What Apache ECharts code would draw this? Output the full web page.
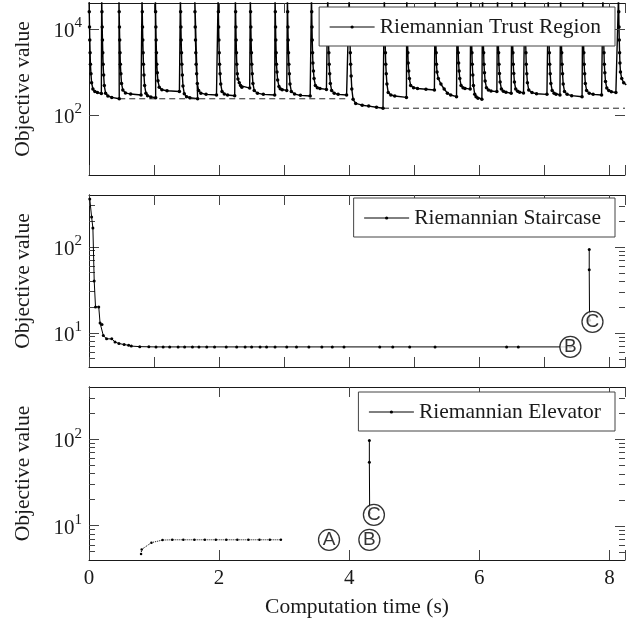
<!DOCTYPE html>
<html>
<head>
<meta charset="utf-8">
<script src="https://cdn.jsdelivr.net/npm/echarts@6/dist/echarts.min.js"></script>
<style>
html, body { margin: 0; padding: 0; background: #fff; }
#chart { width: 639px; height: 620px; }
</style>
</head>
<body>
<div id="chart"></div>
<script>
// restarts of the trust region solver, each one [time, objective]
var trustRegionRuns = [
    [[0,60000],[0.004,25000],[0.008,11000],[0.012,5500],[0.017,2800],[0.022,1500],[0.03,900],[0.04,560],[0.06,400],[0.09,350],[0.13,330],[0.19,315]],
    [[0.195,60000],[0.199,25000],[0.203,11000],[0.207,5500],[0.212,2800],[0.217,1500],[0.225,850],[0.235,480],[0.255,320],[0.29,275],[0.35,255],[0.465,238]],
    [[0.46,60000],[0.464,25000],[0.468,11000],[0.472,5500],[0.477,2800],[0.482,1500],[0.49,900],[0.5,540],[0.52,380],[0.56,325],[0.64,305],[0.8,290]],
    [[0.815,60000],[0.819,25000],[0.823,11000],[0.827,5500],[0.832,2800],[0.837,1500],[0.845,850],[0.855,480],[0.875,320],[0.9,280],[0.95,262],[1.025,250]],
    [[1.02,60000],[1.024,25000],[1.028,11000],[1.032,5500],[1.037,2800],[1.042,1500],[1.05,950],[1.06,620],[1.08,440],[1.12,385],[1.2,365],[1.39,350]],
    [[1.405,60000],[1.409,25000],[1.413,11000],[1.417,5500],[1.422,2800],[1.427,1500],[1.435,850],[1.445,470],[1.465,310],[1.5,265],[1.55,250],[1.67,238]],
    [[1.625,60000],[1.629,25000],[1.633,11000],[1.637,5500],[1.642,2800],[1.647,1500],[1.655,900],[1.665,540],[1.685,370],[1.72,320],[1.8,300],[1.96,290]],
    [[1.985,60000],[1.989,25000],[1.993,11000],[1.997,5500],[2.002,2800],[2.007,1500],[2.015,900],[2.025,520],[2.045,350],[2.08,305],[2.13,290],[2.24,278]],
    [[2.25,60000],[2.254,25000],[2.258,11000],[2.262,5500],[2.267,2800],[2.272,1500],[2.28,900],[2.29,680],[2.31,560],[2.33,480],[2.35,440],[2.47,420]],
    [[2.48,60000],[2.484,25000],[2.488,11000],[2.492,5500],[2.497,2800],[2.502,1500],[2.51,900],[2.52,540],[2.54,370],[2.59,320],[2.68,300],[2.855,290]],
    [[2.86,60000],[2.864,25000],[2.868,11000],[2.872,5500],[2.877,2800],[2.882,1500],[2.89,1000],[2.9,650],[2.92,460],[2.94,405],[2.97,385],[3.04,368]],
    [[3.05,60000],[3.054,25000],[3.058,11000],[3.062,5500],[3.067,2800],[3.072,1500],[3.08,900],[3.09,520],[3.11,350],[3.16,305],[3.25,285],[3.4,275]],
    [[3.42,60000],[3.424,25000],[3.428,11000],[3.432,5500],[3.437,2800],[3.442,1600],[3.45,1050],[3.46,700],[3.48,480],[3.51,430],[3.55,410],[3.65,392]],
    [[3.67,60000],[3.674,25000],[3.678,11000],[3.682,5500],[3.687,2800],[3.692,1500],[3.7,900],[3.71,540],[3.73,370],[3.77,320],[3.83,300],[3.96,290]],
    [[4,60000],[4.004,25000],[4.008,11000],[4.012,5500],[4.017,2800],[4.022,1500],[4.03,800],[4.04,400],[4.06,230],[4.1,185],[4.2,168],[4.3,160],[4.42,150],[4.52,143]],
    [[4.54,60000],[4.544,25000],[4.548,11000],[4.552,5500],[4.557,2800],[4.562,1500],[4.57,900],[4.58,520],[4.6,330],[4.64,290],[4.7,275],[4.88,255]],
    [[4.885,60000],[4.889,25000],[4.893,11000],[4.897,5500],[4.902,2800],[4.907,1600],[4.915,1050],[4.925,700],[4.945,480],[4.99,430],[5.05,410],[5.18,395],[5.31,380]],
    [[5.32,60000],[5.324,25000],[5.328,11000],[5.332,5500],[5.337,2800],[5.342,1500],[5.35,1000],[5.37,700],[5.41,520],[5.46,400],[5.51,320],[5.56,290],[5.65,265]],
    [[5.66,60000],[5.664,25000],[5.668,11000],[5.672,5500],[5.677,2800],[5.682,1600],[5.69,1050],[5.7,700],[5.72,480],[5.75,425],[5.78,410],[5.86,398]],
    [[5.87,60000],[5.874,25000],[5.878,11000],[5.882,5500],[5.887,2800],[5.892,1500],[5.9,850],[5.91,480],[5.93,300],[5.95,265],[5.98,245],[6.04,232]],
    [[6.05,60000],[6.054,25000],[6.058,11000],[6.062,5500],[6.067,2800],[6.072,1500],[6.08,950],[6.09,610],[6.11,430],[6.14,380],[6.18,360],[6.27,348]],
    [[6.28,60000],[6.284,25000],[6.288,11000],[6.292,5500],[6.297,2800],[6.302,1500],[6.31,920],[6.32,580],[6.34,400],[6.37,355],[6.41,335],[6.49,320]],
    [[6.5,60000],[6.504,25000],[6.508,11000],[6.512,5500],[6.517,2800],[6.522,1500],[6.53,920],[6.54,580],[6.56,400],[6.59,355],[6.62,335],[6.68,322]],
    [[6.7,60000],[6.704,25000],[6.708,11000],[6.712,5500],[6.717,2800],[6.722,1500],[6.73,900],[6.74,560],[6.76,380],[6.81,330],[6.88,310],[7.04,300]],
    [[7.06,60000],[7.064,25000],[7.068,11000],[7.072,5500],[7.077,2800],[7.082,1500],[7.09,900],[7.1,540],[7.12,370],[7.15,320],[7.18,302],[7.24,292]],
    [[7.25,60000],[7.254,25000],[7.258,11000],[7.262,5500],[7.267,2800],[7.272,1500],[7.28,900],[7.29,520],[7.31,350],[7.35,300],[7.42,280],[7.58,264]],
    [[7.59,60000],[7.594,25000],[7.598,11000],[7.602,5500],[7.607,2800],[7.612,1500],[7.62,900],[7.63,540],[7.65,370],[7.69,320],[7.75,300],[7.88,290]],
    [[7.9,60000],[7.904,25000],[7.908,11000],[7.912,5500],[7.917,2800],[7.922,1500],[7.93,950],[7.94,600],[7.96,420],[7.99,370],[8.03,345],[8.1,330]],
    [[8.14,60000],[8.144,25000],[8.148,11000],[8.152,5500],[8.157,2800],[8.162,1600],[8.17,1000],[8.19,700],[8.22,560],[8.26,500]]
];
var bestFirst = [[0.465, 237], [3.97, 237]];
var bestSecond = [[4.52, 143], [8.24, 143]];

var stairDescent = [[0.012,360],[0.04,222],[0.06,165],[0.08,40],[0.1,20],[0.15,20],[0.17,13],[0.2,12.5],[0.22,9.3],
    [0.27,8.5],[0.35,8.5],[0.4,7.8],[0.46,7.5],[0.54,7.3],[0.61,7.15],[0.65,7.0],[0.78,6.9],[0.92,6.87],[1.03,6.85],
    [1.14,6.85],[1.24,6.85],[1.37,6.85],[1.47,6.85],[1.59,6.85],[1.69,6.85],[1.81,6.85],[1.93,6.85],[2.11,6.85],
    [2.27,6.85],[2.4,6.85],[2.5,6.85],[2.63,6.85],[2.73,6.85],[2.86,6.85],[3.04,6.85],[3.19,6.85],[3.38,6.85],
    [3.58,6.85],[3.74,6.85],[3.92,6.85],[4.47,6.85],[4.67,6.85],[4.93,6.85],[5.32,6.85],[6.42,6.85],[6.6,6.85],[7.4,6.85]];
var stairLift = [[7.69,93],[7.69,54],[7.695,14]];
var stairMarks = [['B', 7.40, 6.85], ['C', 7.74, 13.4]];

var elevWarmup = [[0.8,4.7],[0.81,5.3],[0.96,6.35],[1.13,6.8],[1.28,6.85],[1.45,6.85],[1.62,6.85],[1.78,6.85],
    [1.95,6.85],[2.11,6.85],[2.28,6.85],[2.45,6.85],[2.62,6.85],[2.78,6.85],[2.95,6.85]];
var elevLift = [[4.31,96],[4.31,54],[4.315,14]];
var elevMarks = [['A', 3.69, 6.85], ['B', 4.31, 6.85], ['C', 4.38, 13.3]];

var yMajor = [[100, 10000], [10, 100], [10, 100]];
var yMinor = [[], [5, 6, 7, 8, 9, 20, 30, 40, 50, 60, 70, 80, 90, 200, 300], [5, 6, 7, 8, 9, 20, 30, 40, 50, 60, 70, 80, 90, 200, 300]];
var yMax = [40000, 400, 400];
var yMin = 4;

var serif = '"Liberation Serif", "Times New Roman", serif';
var ink = '#1a1a1a';
var tickInk = '#444';
var textSize = 21.5;

var trustRegion = [];
trustRegionRuns.forEach(function (run) { trustRegion = trustRegion.concat(run); });

var gridTops = [3, 195, 387];
var gridHeights = [172, 172, 173];

function powLabel(v) {
    var r = Math.round(Math.log10(v));
    return '{b|10}{s|' + r + '}';
}

var line = { show: true, lineStyle: { color: ink, width: 1 } };
var xAxes = [], yAxes = [];
// bottom x axes 0..2, top x axes 3..5
[0, 1, 2].forEach(function (i) {
    var last = i === 2;
    xAxes.push({
        gridIndex: i, type: 'value', min: 0, max: 8.24, interval: last ? 2 : 1,
        axisLine: line, axisTick: { show: true, inside: true, length: 10, lineStyle: { color: tickInk } },
        splitLine: { show: false },
        axisLabel: {
            show: last, margin: 8, color: ink, fontFamily: serif, fontSize: 21,
            formatter: function (v) { return Math.abs(v - Math.round(v)) < 1e-9 ? String(v) : ''; }
        },
        name: last ? 'Computation time (s)' : '', nameLocation: 'middle', nameGap: 36,
        nameTextStyle: { color: ink, fontFamily: serif, fontSize: textSize }
    });
});
[0, 1, 2].forEach(function (i) {
    xAxes.push({
        gridIndex: i, type: 'value', position: 'top', min: 0, max: 8.24, interval: i === 2 ? 2 : 1,
        axisLine: line, axisTick: { show: true, inside: true, length: 10, lineStyle: { color: tickInk } },
        splitLine: { show: false }, axisLabel: { show: false }
    });
});
// left y axes 0..2 (major ticks + labels), right y axes 3..5, left minor-tick axes after
[0, 1, 2].forEach(function (i) {
    yAxes.push({
        gridIndex: i, type: 'log', logBase: 10, min: yMin, max: yMax[i], position: 'left',
        axisLine: line, splitLine: { show: false },
        axisTick: { show: true, inside: true, length: 10, customValues: yMajor[i], lineStyle: { color: tickInk } },
        axisLabel: {
            margin: 7, customValues: yMajor[i], formatter: powLabel,
            rich: {
                b: { color: ink, fontFamily: serif, fontSize: 21, padding: [5, 0, 0, 0] },
                s: { color: ink, fontFamily: serif, fontSize: 15, verticalAlign: 'top' }
            }
        },
        name: 'Objective value', nameLocation: 'middle', nameGap: 55,
        nameTextStyle: { color: ink, fontFamily: serif, fontSize: textSize }
    });
});
[0, 1, 2].forEach(function (i) {
    yAxes.push({
        gridIndex: i, type: 'log', logBase: 10, position: 'right', min: yMin, max: yMax[i],
        axisLine: line, axisTick: { show: false }, splitLine: { show: false }, axisLabel: { show: false }
    });
});
[1, 2].forEach(function (i) {
    yAxes.push({
        gridIndex: i, type: 'log', logBase: 10, position: 'left', offset: 0, min: yMin, max: yMax[i],
        axisLine: { show: false }, splitLine: { show: false }, axisLabel: { show: false },
        axisTick: { show: true, inside: true, length: 6, customValues: yMinor[i], lineStyle: { color: tickInk } }
    });
});

// right-hand y ticks (major and minor), pixel lengths
function renderTick(params, api) {
    var cs = params.coordSys;
    var y = Math.round(api.coord([api.value(0), api.value(1)])[1]) + 0.5;
    var len = api.value(2);
    var x0 = cs.x + cs.width - len;
    return {
        type: 'line',
        shape: { x1: x0, y1: y, x2: x0 + len, y2: y },
        style: { stroke: tickInk, lineWidth: 1 }
    };
}

function tickSeries(i) {
    var data = yMajor[i].map(function (v) { return [0, v, 10]; })
        .concat(yMinor[i].map(function (v) { return [0, v, 6]; }));
    return {
        type: 'custom', xAxisIndex: i, yAxisIndex: i, silent: true, z: 4, clip: false,
        encode: { x: 0, y: 1 }, renderItem: renderTick, data: data
    };
}

function markSeries(i, marks) {
    return {
        type: 'scatter', xAxisIndex: i, yAxisIndex: i, silent: true, z: 5,
        symbol: 'circle', symbolSize: 21,
        itemStyle: { color: '#fff', borderColor: '#000', borderWidth: 1.3 },
        label: {
            show: true, position: 'inside', formatter: '{b}', color: '#000',
            fontFamily: '"Liberation Sans", Arial, sans-serif', fontSize: 19
        },
        data: marks.map(function (m) { return { name: m[0], value: [m[1], m[2]] }; })
    };
}

function pathSeries(i, name, data, extra) {
    var s = {
        type: 'line', name: name, xAxisIndex: i, yAxisIndex: i, data: data,
        symbol: 'circle', symbolSize: 3, showSymbol: true,
        lineStyle: { color: '#000', width: 1 }, itemStyle: { color: '#000' }, z: 3
    };
    for (var k in extra) s[k] = extra[k];
    return s;
}

var legendBase = {
    orient: 'horizontal', itemWidth: 45, itemHeight: 4, selectedMode: false,
    backgroundColor: '#fff', borderColor: '#444', borderWidth: 1, borderRadius: 0,
    padding: [9, 14, 8, 10],
    lineStyle: { width: 1 },
    textStyle: { color: ink, fontFamily: serif, fontSize: textSize }
};
function legendAt(name, top) {
    var l = { data: [name], right: 24, top: top };
    for (var k in legendBase) l[k] = legendBase[k];
    return l;
}

var myChart = echarts.init(document.getElementById('chart'));
myChart.setOption({
    animation: false,
    backgroundColor: '#fff',
    grid: gridTops.map(function (t, i) {
        return { left: 89, right: 14, top: t, height: gridHeights[i] };
    }),
    legend: [
        legendAt('Riemannian Trust Region', 7),
        legendAt('Riemannian Staircase', 198),
        legendAt('Riemannian Elevator', 392)
    ],
    xAxis: xAxes,
    yAxis: yAxes,
    series: [
        pathSeries(0, 'Riemannian Trust Region', trustRegion, { symbolSize: 3.5, lineStyle: { color: '#000', width: 1.4 } }),
        pathSeries(0, 'best-first', bestFirst, { symbol: 'none', lineStyle: { color: '#222', width: 1, type: [6, 4] } }),
        pathSeries(0, 'best-second', bestSecond, { symbol: 'none', lineStyle: { color: '#222', width: 1, type: [6, 4] } }),
        pathSeries(1, 'Riemannian Staircase', stairDescent, {}),
        pathSeries(1, 'Riemannian Staircase', stairLift, {}),
        pathSeries(2, 'elevator-warmup', elevWarmup, { symbolSize: 2.5, lineStyle: { color: '#000', width: 1, type: 'dotted' } }),
        pathSeries(2, 'Riemannian Elevator', elevLift, {}),
        markSeries(1, stairMarks),
        markSeries(2, elevMarks),
        tickSeries(0),
        tickSeries(1),
        tickSeries(2)
    ]
});
</script>
</body>
</html>
